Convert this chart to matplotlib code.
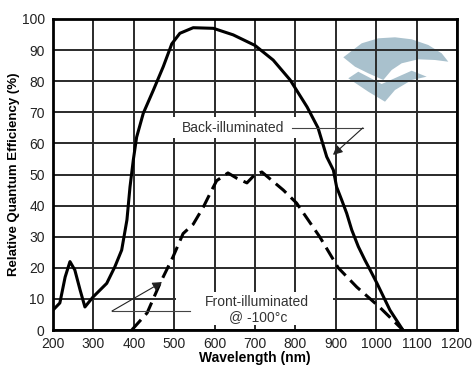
import matplotlib
matplotlib.use("Agg")
import matplotlib.pyplot as plt
from matplotlib.patches import Polygon, Rectangle

plt.rcParams['font.family'] = ['Liberation Sans', 'DejaVu Sans']

# back-illuminated curve (solid)
back_nm = [200, 217, 230, 242, 254, 267, 279, 299, 333, 353, 370, 383, 390.6, 398.8,
           407, 423.5, 448, 473, 494, 514, 547, 597, 646, 700, 745, 787, 829, 856,
           877.5, 894, 902, 914.6, 927, 939.4, 955.8, 972, 985, 1002, 1034, 1066]
back_qe = [6.4, 8.7, 17, 22, 19.3, 12.9, 7.4, 10.6, 15, 20.3, 25.7, 35.4, 46, 54.7,
           62, 69.7, 77, 84.7, 92, 95.4, 97.2, 97, 94.9, 91.5, 86.8, 80.4, 71.7, 65,
           55.7, 51.4, 46, 41.8, 37.5, 32.2, 26.8, 22.5, 19.3, 15, 6.4, 0]

# front-illuminated @ -100 C (dashed)
front_nm = [395, 433, 465, 497, 522, 547, 572, 593, 605, 633, 655, 680, 700, 717,
            770, 803, 860, 906, 952, 1008, 1066]
front_qe = [0, 5.5, 15, 23.5, 31, 34, 39.5, 45, 48, 50.5, 48.8, 47.3, 50, 50.8,
            45, 40.8, 30, 20, 13.8, 7.4, 0]

xticks = [200, 300, 400, 500, 600, 700, 800, 900, 1000, 1100, 1200]
yticks = [0, 10, 20, 30, 40, 50, 60, 70, 80, 90, 100]

W, H = 477, 374
fig = plt.figure(figsize=(W / 100, H / 100), dpi=100)
ax = fig.add_axes([53 / W, 1 - 330 / H, 404 / W, 311 / H])
ax.set_xlim(200, 1200)
ax.set_ylim(0, 100)

for x in xticks:
    ax.axvline(x, color='#2a2a2a', lw=1.4, zorder=1)
for y in yticks:
    ax.axhline(y, color='#2a2a2a', lw=1.4, zorder=1)


# watermark logo (figure pixel coords)
def px(pts):
    return [(a / W, 1 - b / H) for a, b in pts]


upper = [(343.3, 57.3), (361.7, 43.3), (378.3, 38.3), (395, 37.3), (411.7, 39.3),
         (428.3, 45), (441.7, 53.3), (448.3, 61.7), (435, 60), (418.3, 59.3),
         (401.7, 63.3), (391.7, 70), (383.3, 80), (368.3, 73.3), (355, 66.7)]
lower = [(348.3, 78.3), (358.3, 71.7), (381.7, 84), (411.7, 70.7), (426.7, 76.7),
         (411.7, 80), (395, 90), (385, 101.7), (368.3, 91.7)]
for shape in (upper, lower):
    ax.add_patch(Polygon(px(shape), closed=True, transform=fig.transFigure,
                         facecolor='#a9c1cd', edgecolor='none', zorder=0.5))

# white boxes behind labels
ax.add_patch(Rectangle((480, 61.7), 335, 6.8, facecolor='white', edgecolor='none', zorder=2))
ax.add_patch(Rectangle((505, 1.5), 388, 10.7, facecolor='white', edgecolor='none', zorder=2))

ax.plot(back_nm, back_qe, color='black', lw=2.2, zorder=3)
ax.plot(front_nm, front_qe, color='black', lw=2.2, dashes=(4.5, 2.2), zorder=3)

ax.text(646, 65, 'Back-illuminated', ha='center', va='center', fontsize=10,
        color='#333333', zorder=4)
ax.text(704, 9, 'Front-illuminated', ha='center', va='center', fontsize=10,
        color='#333333', zorder=4)
ax.text(708, 4.2, '@ -100°c', ha='center', va='center', fontsize=10,
        color='#333333', zorder=4)

# leader lines
ax.plot([792, 967], [65, 65], color='#444444', lw=0.8, zorder=4)
ax.annotate('', xy=(893, 56.3), xytext=(967, 65), zorder=4,
            arrowprops=dict(arrowstyle='-|>', color='#222222', lw=0.8,
                            mutation_scale=14, shrinkA=0, shrinkB=0))
ax.plot([346, 539], [6.1, 6.1], color='#444444', lw=0.8, zorder=4)
ax.annotate('', xy=(470, 15.4), xytext=(346, 6.1), zorder=4,
            arrowprops=dict(arrowstyle='-|>', color='#222222', lw=0.8,
                            mutation_scale=14, shrinkA=0, shrinkB=0))

ax.set_xticks(xticks)
ax.set_yticks(yticks)
ax.tick_params(length=0, labelsize=10, labelcolor='#222222')
ax.tick_params(axis='x', pad=5)
ax.tick_params(axis='y', pad=6)
for s in ax.spines.values():
    s.set_linewidth(2)
    s.set_zorder(5)

ax.set_xlabel('Wavelength (nm)', fontsize=10, fontweight='bold')
ax.set_ylabel('Relative Quantum Efficiency (%)', fontsize=9.5, fontweight='bold')
ax.xaxis.set_label_coords(0.5, -0.067)
ax.yaxis.set_label_coords(-0.082, 0.5)

fig.savefig('out.png', dpi=100)
